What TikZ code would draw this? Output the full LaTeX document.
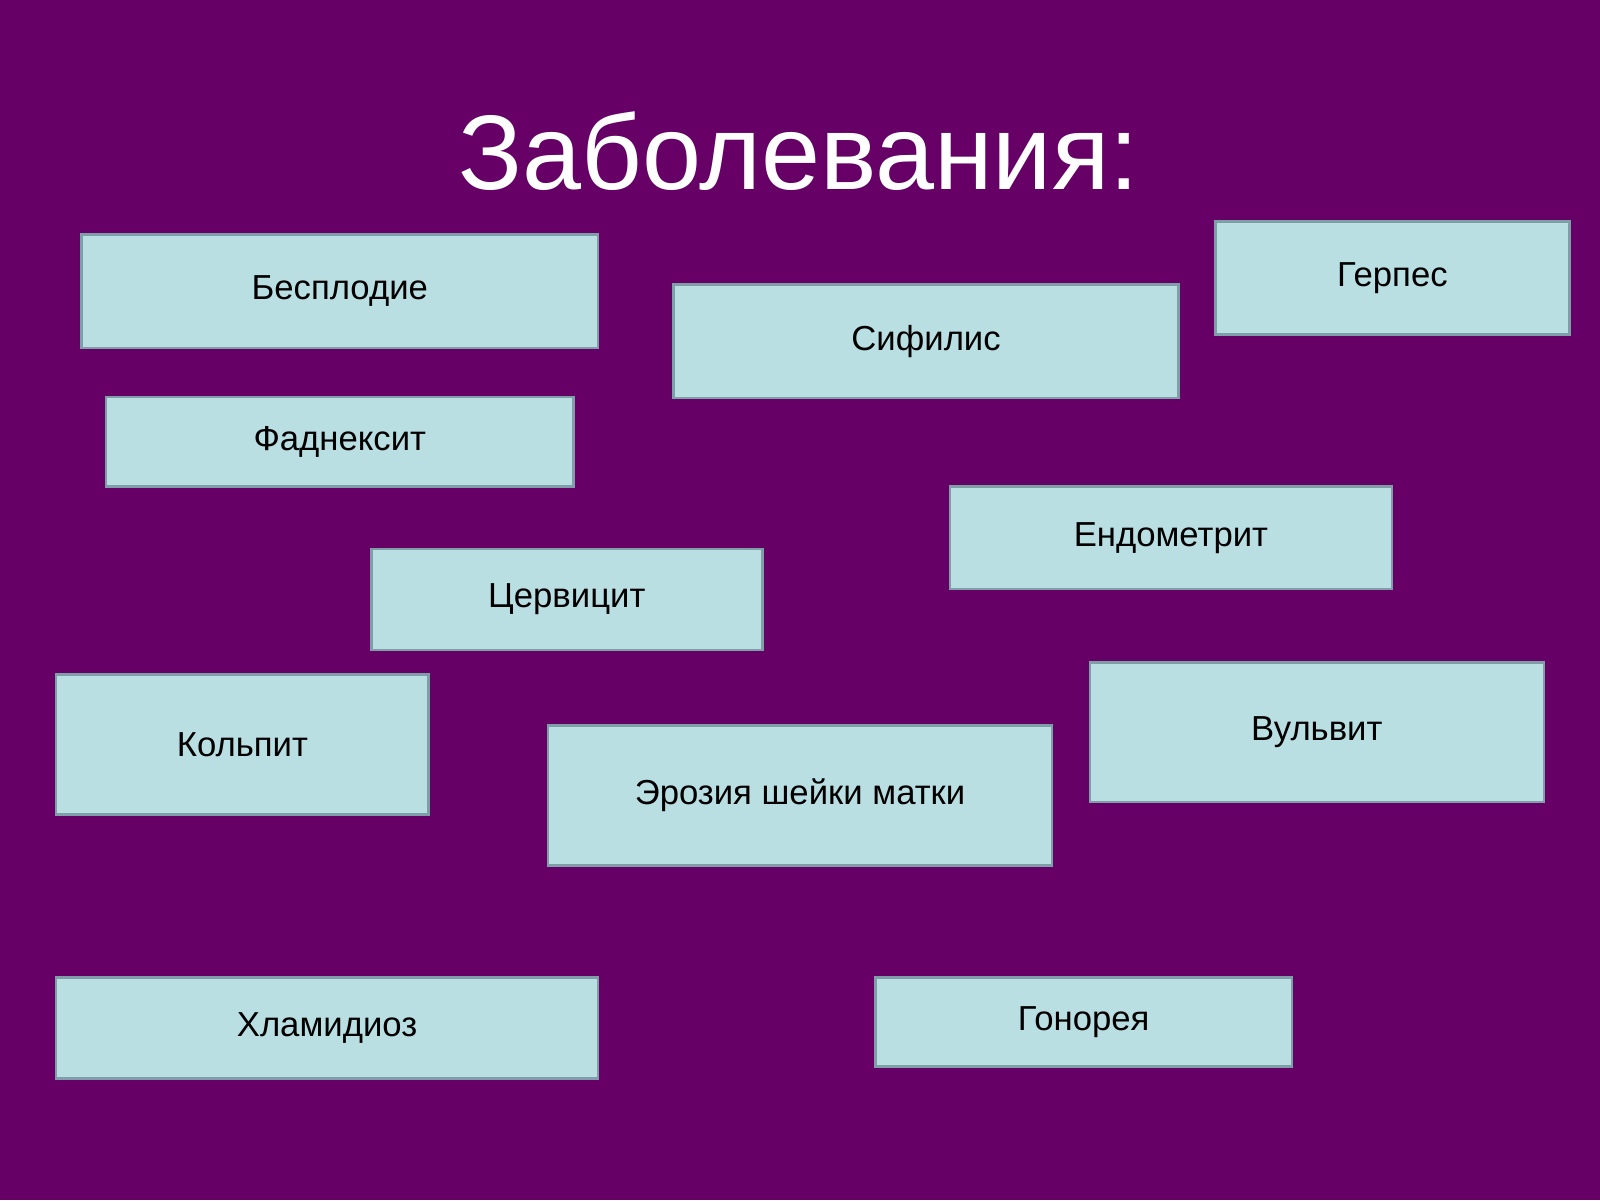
\documentclass[tikz,border=0pt]{standalone}
\usepackage{fontspec}
\setmainfont{Liberation Sans}
\definecolor{bg}{HTML}{660066}
\definecolor{boxfill}{HTML}{B9DFE3}
\definecolor{boxline}{HTML}{7F9FA8}
\begin{document}
\begin{tikzpicture}[x=1pt,y=-1pt,
  bx/.style={draw=boxline,line width=2.5pt,fill=boxfill,font=\fontsize{34}{40}\selectfont,text=black}]
\fill[bg] (0,0) rectangle (1568,1176);
\useasboundingbox (0,0) rectangle (1568,1176);
\node[text=white,font=\fontsize{104}{120}\selectfont] (title) at (783,148) {Заболевания:};
\newcommand{\mybox}[6]{%
  \draw[bx] (#2,#3) rectangle (#4,#5);
  \node[font=\fontsize{34}{40}\selectfont] (#1) at ({(#2+#4)/2},{(#3+#5)/2}) {#6};}
\mybox{b1}{80}{230}{586}{341}{Бесплодие}
\mybox{b2}{660}{279}{1155}{390}{Сифилис}
\mybox{b3}{1191}{217}{1538}{328}{Герпес}
\mybox{b4}{104}{389}{562}{477}{Фаднексит}
\mybox{b5}{931}{477}{1364}{577}{Ендометрит}
\mybox{b6}{364}{538}{747}{637}{Цервицит}
\mybox{b7}{55}{661}{420}{798}{Кольпит}
\mybox{b8}{1068}{649}{1513}{786}{Вульвит}
\mybox{b9}{537}{711}{1031}{848}{Эрозия шейки матки}
\mybox{b10}{55}{958}{586}{1057}{Хламидиоз}
\mybox{b11}{858}{958}{1266}{1045}{Гонорея}
\end{tikzpicture}
\end{document}
